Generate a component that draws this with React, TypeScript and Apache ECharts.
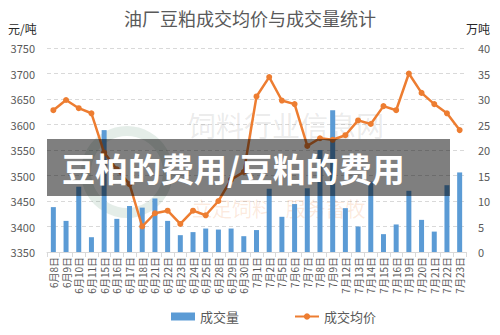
import React, { useEffect, useRef } from "react";
import * as echarts from "echarts";

const categories = [
  "6月8日", "6月9日", "6月10日", "6月11日", "6月15日", "6月16日", "6月17日", "6月18日",
  "6月21日", "6月22日", "6月23日", "6月24日", "6月25日", "6月28日", "6月29日", "6月30日",
  "7月1日", "7月2日", "7月5日", "7月6日", "7月7日", "7月8日", "7月9日", "7月12日",
  "7月13日", "7月14日", "7月15日", "7月16日", "7月19日", "7月20日", "7月21日", "7月22日", "7月23日",
];

const volume = [
  8.8, 6.1, 12.8, 2.9, 23.9, 6.5, 9.0, 8.7,
  10.5, 6.1, 3.3, 3.9, 4.6, 4.4, 4.6, 3.1,
  4.3, 12.4, 6.9, 9.4, 12.5, 20, 27.8, 8.6,
  5.0, 13.8, 3.5, 5.4, 12.0, 6.3, 4.0, 13.1, 15.6,
];

const price = [
  3628, 3648, 3632, 3622, 3545, 3512, 3483, 3400,
  3426, 3431, 3405, 3431, 3422, 3450, 3492, 3507,
  3655, 3693, 3647, 3640, 3558, 3573, 3570, 3579,
  3608, 3601, 3636, 3628, 3700, 3662, 3640, 3622, 3589,
];

const title = "油厂豆粕成交均价与成交量统计";
const leftUnit = "元/吨";
const rightUnit = "万吨";
const bannerText = "豆柏的费用/豆粕的费用";
const watermarkName = "饲料行业信息网";
const watermarkSlogan = "立足饲料   服务畜牧";

const FONT = "'Noto Sans CJK SC', 'Noto Sans', sans-serif";
const TXT = "#595959";

export default function App() {
  const ref = useRef<HTMLDivElement>(null);
  useEffect(() => {
    if (!ref.current) return;
    const chart = echarts.init(ref.current, undefined, { renderer: "svg" });
    chart.setOption({
      animation: false,
      backgroundColor: "#ffffff",
      textStyle: { fontFamily: FONT },
      title: {
        text: title,
        left: "center",
        top: 4,
        textStyle: { fontSize: 18, fontWeight: "normal", color: TXT, fontFamily: FONT },
      },
      grid: { left: 47, right: 34, top: 48, bottom: 83, containLabel: false },
      legend: {
        bottom: 7,
        left: 166,
        itemGap: 55,
        itemWidth: 24,
        itemHeight: 8,
        textStyle: { fontSize: 13, color: TXT, fontFamily: FONT },
        data: [{ name: "成交量", icon: "rect" }, { name: "成交均价" }],
      },
      xAxis: {
        type: "category",
        data: categories,
        axisLine: { lineStyle: { color: "#d9d9d9" } },
        axisTick: { show: true, length: 5, lineStyle: { color: "#d9d9d9" } },
        axisLabel: { rotate: 90, fontSize: 10, color: TXT, margin: 5, interval: 0, fontFamily: FONT },
      },
      yAxis: [
        {
          type: "value",
          min: 3350,
          max: 3750,
          interval: 50,
          axisLine: { show: false },
          axisTick: { show: false },
          axisLabel: { fontSize: 11, color: TXT, margin: 12, fontFamily: FONT, formatter: (v: number) => String(v) },
          splitLine: { lineStyle: { color: "#d9d9d9", type: [4, 3] } },
        },
        {
          type: "value",
          min: 0,
          max: 40,
          interval: 5,
          axisLine: { show: false },
          axisTick: { show: false },
          axisLabel: { fontSize: 11, color: TXT, margin: 12, fontFamily: FONT, formatter: (v: number) => String(v) },
          splitLine: { show: false },
        },
      ],
      series: [
        {
          name: "成交量",
          type: "bar",
          yAxisIndex: 1,
          data: volume,
          barWidth: 5,
          itemStyle: { color: "#5b9bd5" },
          z: 2,
        },
        {
          name: "成交均价",
          type: "line",
          yAxisIndex: 0,
          data: price,
          symbol: "circle",
          symbolSize: 6,
          lineStyle: { color: "#ed7d31", width: 2.5 },
          itemStyle: { color: "#ed7d31" },
          z: 3,
        },
      ],
      graphic: [
        {
          type: "text",
          left: 8,
          top: 22,
          style: { text: leftUnit, fontSize: 12, fill: "#262626", fontFamily: FONT },
        },
        {
          type: "text",
          left: 466,
          top: 22,
          style: { text: rightUnit, fontSize: 12, fill: "#262626", fontFamily: FONT },
        },
        {
          type: "ring",
          shape: { cx: 127, cy: 172, r: 46, r0: 36 },
          style: { fill: "rgba(90,140,110,0.16)" },
          z: 1,
          silent: true,
        },
        {
          type: "text",
          x: 188,
          y: 125,
          style: {
            text: watermarkName,
            fontSize: 28,
            fill: "rgba(110,110,110,0.14)",
            fontFamily: FONT,
            verticalAlign: "middle",
          },
          z: 1,
          silent: true,
        },
        {
          type: "text",
          x: 192,
          y: 208,
          style: {
            text: watermarkSlogan,
            fontSize: 20,
            fill: "rgba(237,125,49,0.16)",
            fontFamily: FONT,
            verticalAlign: "middle",
          },
          z: 1,
          silent: true,
        },
        {
          type: "rect",
          shape: { x: 47, y: 139, width: 403, height: 57 },
          style: { fill: "rgba(0,0,0,0.5)" },
          z: 100,
          silent: true,
        },
        {
          type: "text",
          x: 62,
          y: 168,
          style: {
            text: bannerText,
            fontSize: 33,
            fontWeight: "bold",
            fill: "#ffffff",
            fontFamily: FONT,
            verticalAlign: "middle",
          },
          z: 101,
          silent: true,
        },
      ],
    });
    return () => chart.dispose();
  }, []);
  return <div ref={ref} style={{ width: 500, height: 335, position: "fixed", left: 0, top: 0 }} />;
}
